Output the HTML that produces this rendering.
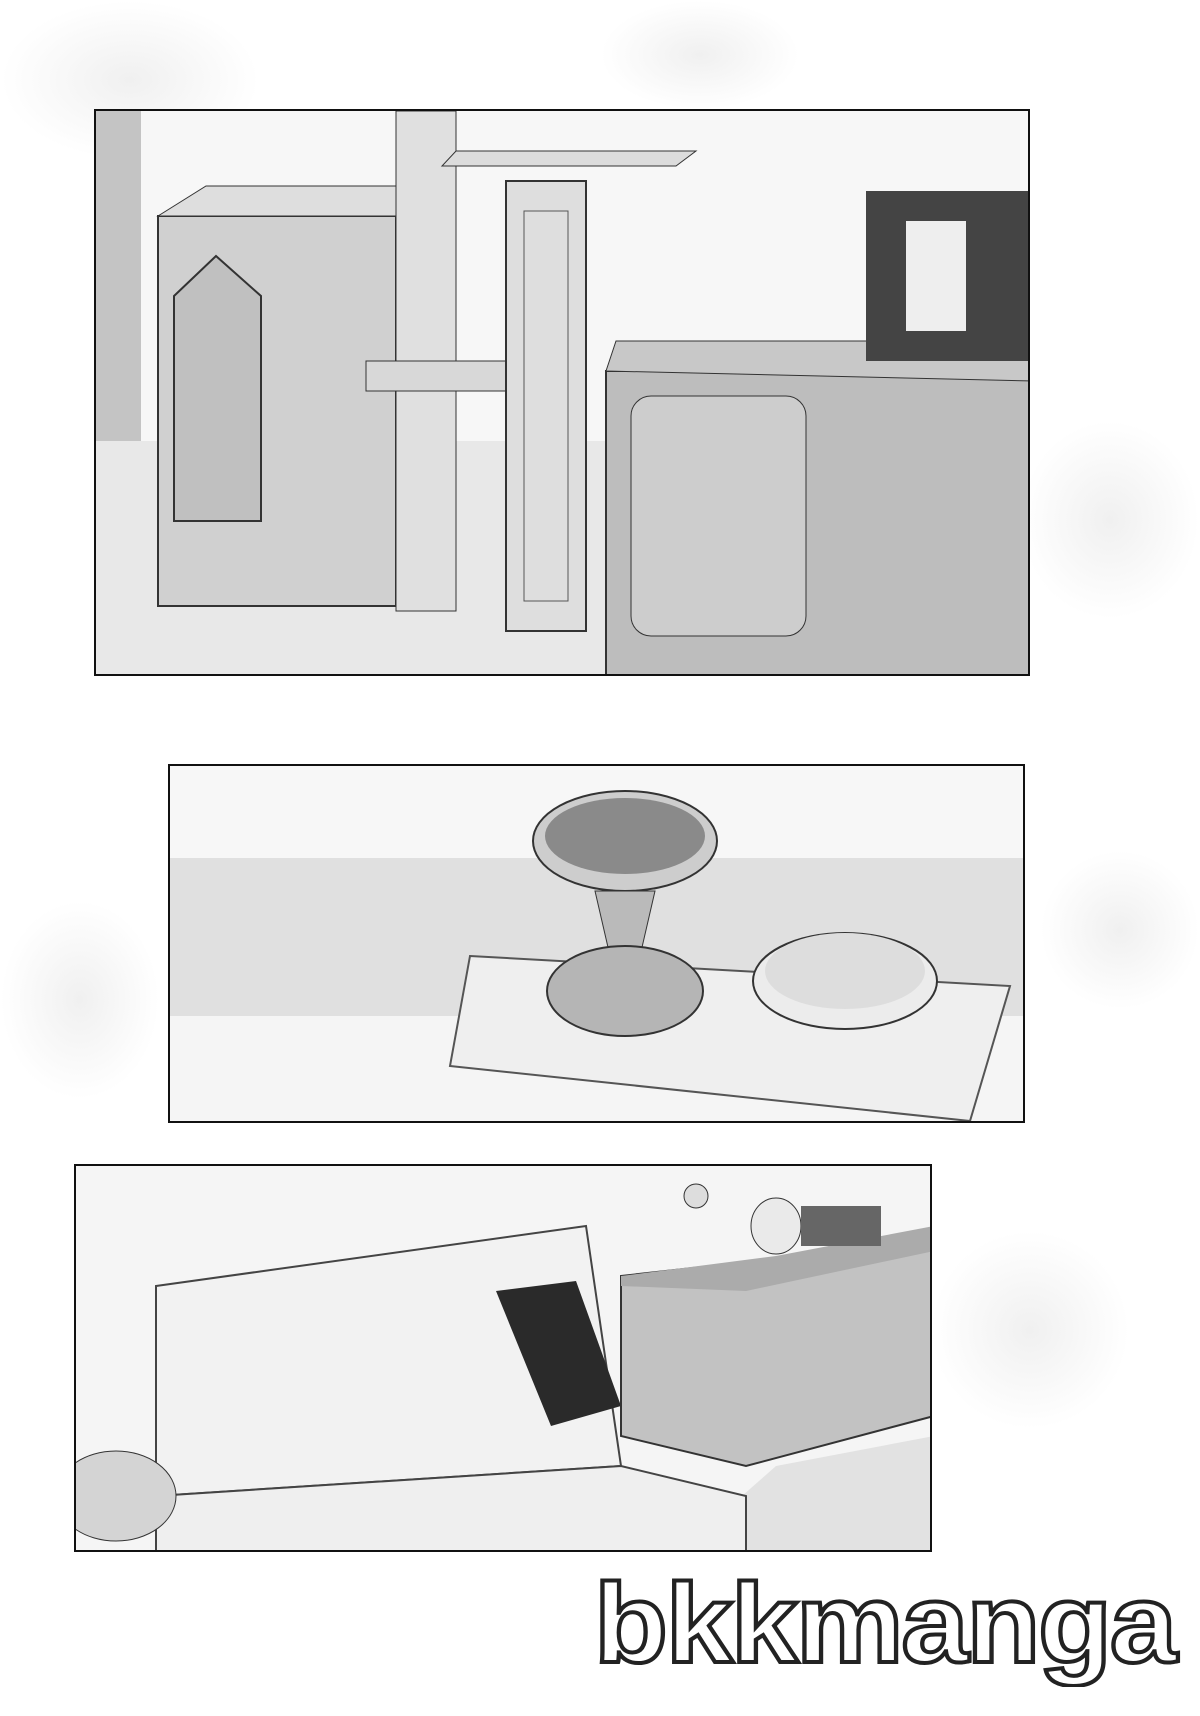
<!DOCTYPE html>
<html><head><meta charset="utf-8"><style>
html,body{margin:0;padding:0;background:#fff;}
body{width:1200px;height:1716px;position:relative;overflow:hidden;font-family:"Liberation Sans",sans-serif;}
.p{position:absolute;border:2px solid #111;background:#f4f4f4;overflow:hidden;box-sizing:border-box;}
.s{position:absolute;}
.wm{position:absolute;left:594px;top:1568px;font-size:112px;font-weight:bold;color:#fff;-webkit-text-stroke:4px #222;letter-spacing:-2px;font-family:"Liberation Sans",sans-serif;line-height:1;transform:scaleX(1.08);transform-origin:left top;}
.blob{position:absolute;border-radius:50%;background:radial-gradient(#f0f0f0,rgba(255,255,255,0) 70%);}
</style></head><body>
<div class="blob" style="left:0;top:0;width:260px;height:160px"></div>
<div class="blob" style="left:600px;top:0;width:200px;height:110px"></div>
<div class="blob" style="left:1020px;top:420px;width:180px;height:200px"></div>
<div class="blob" style="left:0;top:900px;width:160px;height:200px"></div>
<div class="blob" style="left:930px;top:1230px;width:200px;height:200px"></div>
<div class="blob" style="left:1040px;top:850px;width:160px;height:160px"></div>

<div class="p" style="left:94px;top:109px;width:936px;height:567px;">
 <svg width="936" height="567" class="s" style="left:0;top:0">
  <rect x="0" y="0" width="936" height="567" fill="#f7f7f7"/>
  <polygon points="0,330 936,330 936,567 0,567" fill="#e8e8e8"/>
  <rect x="0" y="0" width="45" height="330" fill="#c4c4c4"/>
  <polygon points="62,105 300,105 300,495 62,495" fill="#d0d0d0" stroke="#333" stroke-width="2"/>
  <polygon points="62,105 110,75 300,75 300,105" fill="#dedede" stroke="#333"/>
  <polygon points="78,185 120,145 165,185 165,410 78,410" fill="#c0c0c0" stroke="#333" stroke-width="2"/>
  <rect x="300" y="0" width="60" height="500" fill="#e0e0e0" stroke="#333"/>
  <rect x="270" y="250" width="140" height="30" fill="#d8d8d8" stroke="#333"/>
  <polygon points="346,55 580,55 600,40 360,40" fill="#dcdcdc" stroke="#333"/>
  <rect x="410" y="70" width="80" height="450" fill="#dedede" stroke="#333" stroke-width="2"/>
  <rect x="428" y="100" width="44" height="390" fill="none" stroke="#555"/>
  <rect x="510" y="260" width="426" height="307" fill="#bdbdbd" stroke="#333" stroke-width="2"/>
  <polygon points="520,230 936,230 936,270 510,260" fill="#c8c8c8" stroke="#333"/>
  <rect x="535" y="285" width="175" height="240" rx="20" fill="#cdcdcd" stroke="#333"/>
  <rect x="770" y="80" width="166" height="170" fill="#444"/>
  <rect x="810" y="110" width="60" height="110" fill="#eee"/>
 </svg>
</div>

<div class="p" style="left:168px;top:764px;width:857px;height:359px;">
 <svg width="857" height="359" class="s" style="left:0;top:0">
  <rect width="857" height="359" fill="#f7f7f7"/>
  <polygon points="0,92 857,92 857,359 0,359" fill="#e0e0e0"/>
  <polygon points="0,250 857,250 857,359 0,359" fill="#f5f5f5"/>
  <polygon points="300,190 840,220 800,355 280,300" fill="#efefef" stroke="#555" stroke-width="2"/>
  <ellipse cx="455" cy="75" rx="92" ry="50" fill="#cdcdcd" stroke="#333" stroke-width="2"/>
  <ellipse cx="455" cy="70" rx="80" ry="38" fill="#8a8a8a"/>
  <polygon points="425,125 485,125 470,190 440,190" fill="#bababa" stroke="#333"/>
  <ellipse cx="455" cy="225" rx="78" ry="45" fill="#b5b5b5" stroke="#333" stroke-width="2"/>
  <ellipse cx="675" cy="215" rx="92" ry="48" fill="#ececec" stroke="#333" stroke-width="2"/>
  <ellipse cx="675" cy="205" rx="80" ry="38" fill="#dddddd"/>
 </svg>
</div>

<div class="p" style="left:74px;top:1164px;width:858px;height:388px;">
 <svg width="858" height="388" class="s" style="left:0;top:0">
  <rect width="858" height="388" fill="#f5f5f5"/>
  <polygon points="700,300 858,270 858,388 600,388" fill="#e2e2e2"/>
  <polygon points="80,120 510,60 545,300 80,330" fill="#f2f2f2" stroke="#444" stroke-width="2"/>
  <polygon points="80,330 545,300 670,330 670,388 80,388" fill="#efefef" stroke="#444" stroke-width="2"/>
  <polygon points="420,125 500,115 545,240 475,260" fill="#2a2a2a"/>
  <polygon points="545,110 858,75 858,250 670,300 545,270" fill="#c2c2c2" stroke="#333" stroke-width="2"/>
  <polygon points="545,110 700,90 858,60 858,85 670,125 545,120" fill="#ababab"/>
  <circle cx="620" cy="30" r="12" fill="#ddd" stroke="#333"/>
  <ellipse cx="700" cy="60" rx="25" ry="28" fill="#eaeaea" stroke="#333"/>
  <rect x="725" y="40" width="80" height="40" fill="#666"/>
  <ellipse cx="40" cy="330" rx="60" ry="45" fill="#d4d4d4" stroke="#333"/>
 </svg>
</div>

<div class="wm">bkkmanga</div>
</body></html>
